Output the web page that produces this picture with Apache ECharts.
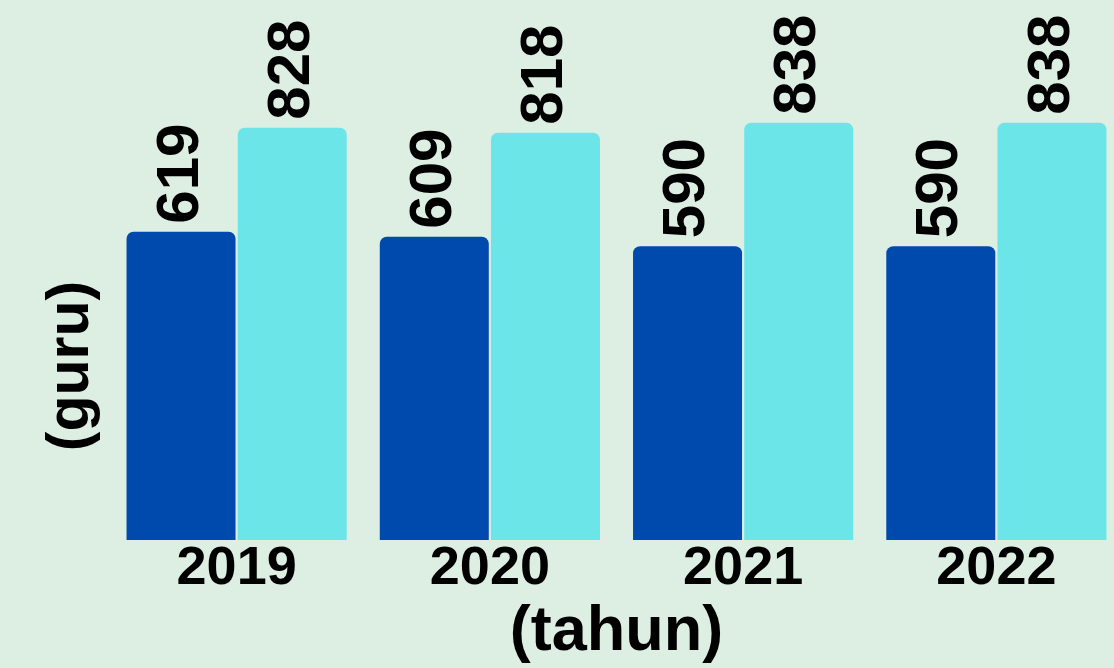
<!DOCTYPE html>
<html>
<head>
<meta charset="utf-8">
<script src="https://cdn.jsdelivr.net/npm/echarts@6/dist/echarts.min.js"></script>
<style>
html,body{margin:0;padding:0;background:#ddeee3;}
#chart{width:1114px;height:668px;}
</style>
</head>
<body>
<div id="chart"></div>
<script>
const categories = ['2019', '2020', '2021', '2022'];
const seriesA = [619, 609, 590, 590];
const seriesB = [828, 818, 838, 838];
const xAxisName = '(tahun)';
const yAxisName = '(guru)';

const FONT = '"Liberation Sans", Arial, sans-serif';
const chart = echarts.init(document.getElementById('chart'), null, {renderer: 'canvas'});
const labelCfg = {
  show: true,
  position: 'top',
  rotate: 90,
  align: 'left',
  verticalAlign: 'middle',
  distance: 8,
  color: '#000',
  fontFamily: FONT,
  fontWeight: 'bold',
  fontSize: 60
};
chart.setOption({
  backgroundColor: '#ddeee3',
  animation: false,
  grid: {left: 110, right: -9, top: 42, bottom: 128, outerBoundsMode: 'none', containLabel: false},
  xAxis: {
    type: 'category',
    data: categories,
    axisLine: {show: false},
    axisTick: {show: false},
    axisLabel: {color: '#000', fontFamily: FONT, fontWeight: 'bold', fontSize: 54, margin: 2},
    name: xAxisName,
    nameLocation: 'middle',
    nameGap: 60,
    nameTextStyle: {color: '#000', fontFamily: FONT, fontWeight: 'bold', fontSize: 63}
  },
  yAxis: {
    type: 'value',
    min: 0,
    max: 1000,
    show: false
  },
  graphic: [{
    type: 'text',
    x: 72,
    y: 366,
    rotation: Math.PI / 2,
    style: {
      text: yAxisName,
      fill: '#000',
      font: 'bold 59px ' + FONT,
      align: 'center',
      verticalAlign: 'middle'
    }
  }],
  series: [
    {
      name: 'A',
      type: 'bar',
      data: seriesA,
      barWidth: 109,
      barGap: '2%',
      itemStyle: {color: '#004aad', borderRadius: [7, 7, 0, 0]},
      label: labelCfg
    },
    {
      name: 'B',
      type: 'bar',
      data: seriesB,
      barWidth: 109,
      barGap: '2%',
      itemStyle: {color: '#6be5e8', borderRadius: [7, 7, 0, 0]},
      label: labelCfg
    }
  ]
});
</script>
</body>
</html>
